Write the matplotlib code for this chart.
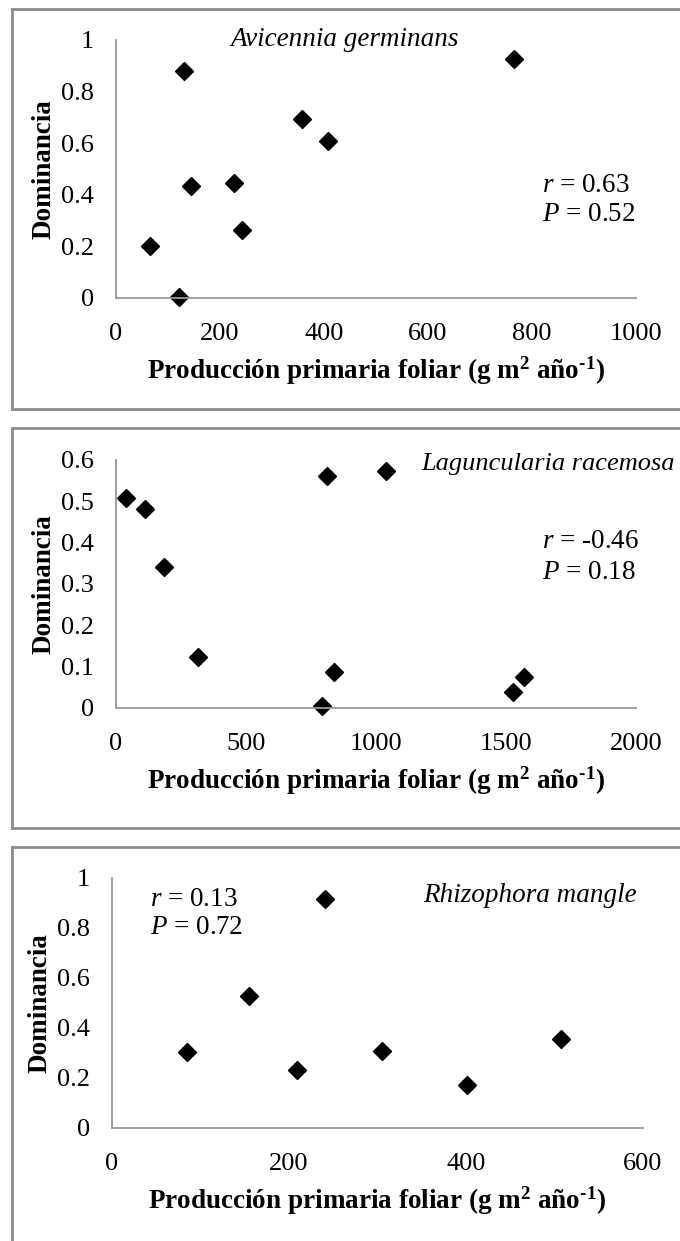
import matplotlib.pyplot as plt
from matplotlib.lines import Line2D

plt.rcParams["font.family"] = ["Liberation Serif", "DejaVu Serif"]
plt.rcParams["mathtext.fontset"] = "custom"
plt.rcParams["mathtext.rm"] = "Liberation Serif"
plt.rcParams["mathtext.it"] = "Liberation Serif:italic"
plt.rcParams["mathtext.bf"] = "Liberation Serif:bold"

# Avicennia germinans
avi_x = [130, 765, 358, 408, 144, 226, 242, 65, 122]
avi_y = [0.88, 0.926, 0.692, 0.608, 0.435, 0.446, 0.263, 0.20, 0.004]

# Laguncularia racemosa
lag_x = [38, 113, 185, 317, 811, 1039, 839, 792, 1528, 1568]
lag_y = [0.507, 0.481, 0.340, 0.124, 0.561, 0.573, 0.087, 0.004, 0.039, 0.075]

# Rhizophora mangle
rhi_x = [85, 155, 209, 241, 305, 401, 507]
rhi_y = [0.303, 0.527, 0.233, 0.916, 0.309, 0.173, 0.357]

W, H = 680, 1241
fig = plt.figure(figsize=(W / 100, H / 100), dpi=100)

xlabel = "Producción primaria foliar (g m$^\\mathbf{2}$ año$^\\mathbf{\u20101}$)"
gray = "#8c8c8c"
fs = 19.5

# panel frames (top, bottom in pixels)
for top, bottom in [(9, 409), (428, 828), (847, None)]:
    fig.add_artist(Line2D([12 / W, 12 / W], [1 - top / H, 1 - (bottom or H) / H],
                          transform=fig.transFigure, color=gray, lw=2))
    fig.add_artist(Line2D([12 / W, 1], [1 - top / H] * 2,
                          transform=fig.transFigure, color=gray, lw=2))
    if bottom:
        fig.add_artist(Line2D([12 / W, 1], [1 - bottom / H] * 2,
                              transform=fig.transFigure, color=gray, lw=2))


def panel(px, x, y, xmax, xstep, ymax, ystep):
    l, r, t, b = px
    ax = fig.add_axes([l / W, 1 - b / H, (r - l) / W, (b - t) / H])
    ax.plot(x, y, "D", color="black", ms=9.5, clip_on=False)
    ax.set_xlim(0, xmax)
    ax.set_ylim(0, ymax)
    ax.set_xticks(range(0, xmax + 1, xstep))
    yt = [i * ystep for i in range(int(round(ymax / ystep)) + 1)]
    ax.set_yticks(yt)
    ax.set_yticklabels(["0" if v == 0 else ("1" if abs(v - 1) < 1e-9 else f"{v:.1f}") for v in yt])
    for s in ["top", "right"]:
        ax.spines[s].set_visible(False)
    for s in ["left", "bottom"]:
        ax.spines[s].set_color("#999999")
        ax.spines[s].set_linewidth(1.3)
    ax.tick_params(length=0, labelsize=19)
    ax.tick_params(axis="x", pad=18)
    ax.tick_params(axis="y", pad=16)
    ax.set_xlabel(xlabel, fontsize=fs, fontweight="bold", labelpad=7)
    ax.set_ylabel("Dominancia", fontsize=fs, fontweight="bold", labelpad=3)
    return ax


def stats(ax, x, y, r, p, gap=0.11):
    ax.text(x, y, r"$\mathit{r}$ = " + r, transform=ax.transAxes, fontsize=fs, va="center")
    ax.text(x, y - gap, r"$\mathit{P}$ = " + p, transform=ax.transAxes, fontsize=fs, va="center")


ax1 = panel((116, 636, 40, 298), avi_x, avi_y, 1000, 200, 1.0, 0.2)
ax2 = panel((116, 636, 460, 708), lag_x, lag_y, 2000, 500, 0.6, 0.1)
ax3 = panel((112, 643, 878, 1128), rhi_x, rhi_y, 600, 200, 1.0, 0.2)

ax1.text(0.44, 1.0, "Avicennia germinans", transform=ax1.transAxes, ha="center",
         va="center", fontsize=fs, style="italic")
stats(ax1, 0.82, 0.435, "0.63", "0.52")

ax2.text(0.587, 0.985, "Laguncularia racemosa", transform=ax2.transAxes, ha="left",
         va="center", fontsize=19, style="italic")
stats(ax2, 0.82, 0.673, "-0.46", "0.18", gap=0.125)

ax3.text(0.586, 0.932, "Rhizophora mangle", transform=ax3.transAxes, ha="left",
         va="center", fontsize=fs, style="italic")
stats(ax3, 0.072, 0.912, "0.13", "0.72")

fig.savefig("out.png", dpi=100)
